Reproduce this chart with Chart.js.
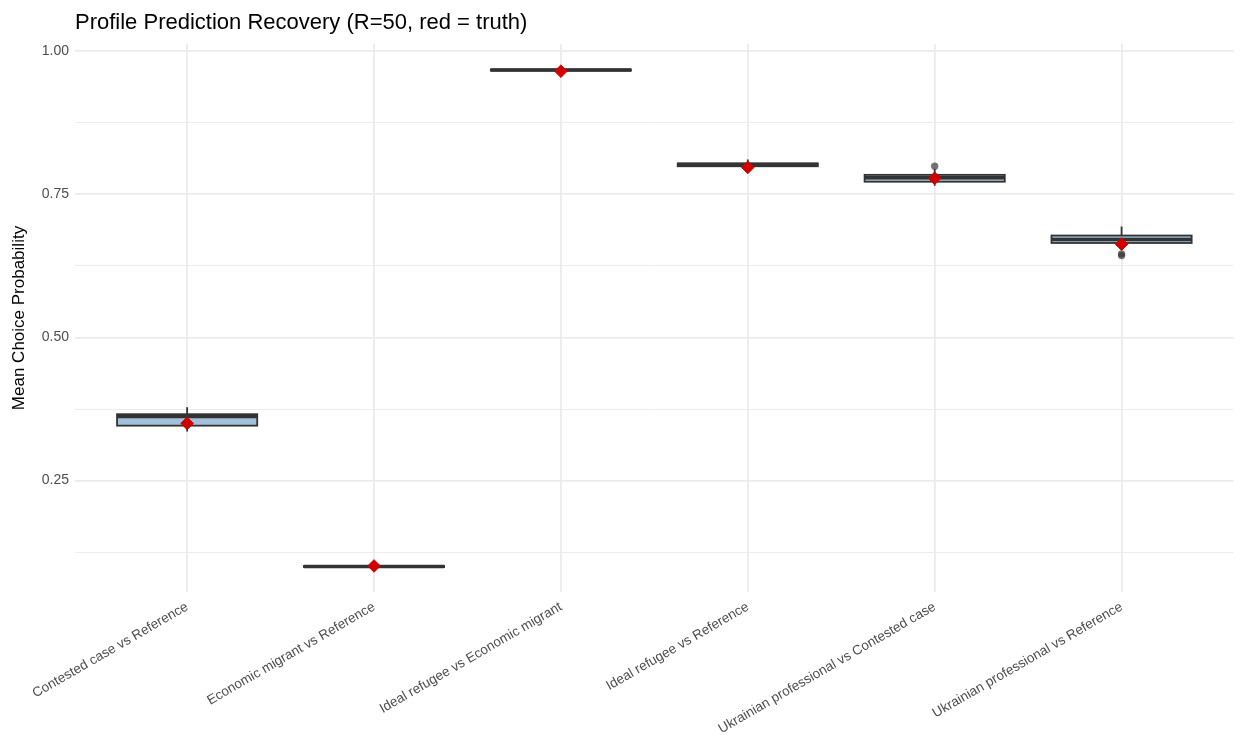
<!DOCTYPE html>
<html>
<head>
<meta charset="utf-8">
<title>Profile Prediction Recovery</title>
<script src="https://cdn.jsdelivr.net/npm/chart.js@4.4.1/dist/chart.umd.min.js"></script>
<style>
  html, body { margin: 0; padding: 0; background: #ffffff; }
  #wrap { width: 1241px; height: 743px; }
</style>
</head>
<body>
<div id="wrap"><canvas id="chart" width="1241" height="743"></canvas></div>
<script>
// Comparison profiles (one box per category)
const categories = [
  "Contested case vs Reference",
  "Economic migrant vs Reference",
  "Ideal refugee vs Economic migrant",
  "Ideal refugee vs Reference",
  "Ukrainian professional vs Contested case",
  "Ukrainian professional vs Reference"
];

// Box-plot summaries of the recovered mean choice probability across replications
const whiskerLow  = [0.336, 0.099, 0.966, 0.796, 0.765, 0.657];
const quartile1   = [0.346, 0.099, 0.966, 0.799, 0.772, 0.665];
const medians     = [0.362, 0.100, 0.967, 0.802, 0.779, 0.671];
const quartile3   = [0.366, 0.101, 0.968, 0.804, 0.784, 0.678];
const whiskerHigh = [0.378, 0.101, 0.969, 0.811, 0.794, 0.694];

// Points beyond the whiskers
const outlierCategory = [4, 5, 5];
const outlierValue    = [0.799, 0.646, 0.643];

// True values (red diamonds)
const truthValues = [0.350, 0.101, 0.965, 0.797, 0.778, 0.663];

// Y grid: labelled major lines every 0.25, minor lines half-way between
const yTickValues = [0.125, 0.25, 0.375, 0.5, 0.625, 0.75, 0.875, 1.0];

const FONT = "'Liberation Sans', Arial, Helvetica, sans-serif";
const GRID = "#ebebeb";
const INK = "#333333";

// y limits: data range expanded by 5% on each side
const allY = [].concat(whiskerLow, whiskerHigh, outlierValue, truthValues);
const yLo = Math.min(...allY), yHi = Math.max(...allY);
const yPad = (yHi - yLo) * 0.05;

const isMajor = v => Math.abs(v * 4 - Math.round(v * 4)) < 1e-9;

// Draws whiskers, boxes and medians from the summary arrays via the chart scales
const boxPlotPlugin = {
  id: 'boxPlot',
  beforeDatasetsDraw(chart) {
    const { ctx, scales: { x, y } } = chart;
    const halfWidth = 0.375;
    ctx.save();
    ctx.lineCap = 'butt';
    categories.forEach((_, i) => {
      const cx = x.getPixelForValue(i);
      const xl = x.getPixelForValue(i - halfWidth);
      const xr = x.getPixelForValue(i + halfWidth);
      const yWl = y.getPixelForValue(whiskerLow[i]);
      const yWh = y.getPixelForValue(whiskerHigh[i]);
      const yQ1 = y.getPixelForValue(quartile1[i]);
      const yQ3 = y.getPixelForValue(quartile3[i]);
      const yMd = y.getPixelForValue(medians[i]);

      // whiskers
      ctx.strokeStyle = INK;
      ctx.lineWidth = 1.8;
      ctx.beginPath();
      ctx.moveTo(cx, yQ3); ctx.lineTo(cx, yWh);
      ctx.moveTo(cx, yQ1); ctx.lineTo(cx, yWl);
      ctx.stroke();

      // box
      ctx.fillStyle = 'rgba(70,130,180,0.5)';
      ctx.fillRect(xl, yQ3, xr - xl, yQ1 - yQ3);
      ctx.strokeRect(xl, yQ3, xr - xl, yQ1 - yQ3);

      // median
      ctx.lineWidth = 3.6;
      ctx.beginPath();
      ctx.moveTo(xl, yMd); ctx.lineTo(xr, yMd);
      ctx.stroke();
    });
    ctx.restore();
  }
};

new Chart(document.getElementById('chart'), {
  type: 'scatter',
  data: {
    datasets: [
      {
        label: 'truth',
        data: truthValues.map((v, i) => ({ x: i, y: v })),
        pointStyle: 'rectRot',
        pointRadius: 6.3,
        pointHoverRadius: 6.3,
        backgroundColor: '#d00000',
        borderColor: '#d00000',
        borderWidth: 1
      },
      {
        label: 'outliers',
        data: outlierValue.map((v, k) => ({ x: outlierCategory[k], y: v })),
        pointStyle: 'circle',
        pointRadius: 3.7,
        pointHoverRadius: 3.7,
        backgroundColor: 'rgba(51,51,51,0.68)',
        borderWidth: 0
      }
    ]
  },
  options: {
    responsive: false,
    animation: false,
    devicePixelRatio: 1,
    layout: { padding: 0 },
    plugins: {
      legend: { display: false },
      tooltip: { enabled: false },
      title: {
        display: true,
        text: 'Profile Prediction Recovery (R=50, red = truth)',
        align: 'start',
        fullSize: false,
        color: '#000000',
        font: { family: FONT, size: 22, weight: 'normal' },
        padding: { top: 10, bottom: 7.6 }
      }
    },
    scales: {
      x: {
        type: 'linear',
        min: -0.6,
        max: 5.6,
        afterBuildTicks: s => { s.ticks = categories.map((_, i) => ({ value: i })); },
        afterFit: s => { s.height = 151; s.paddingLeft = 0; s.paddingRight = 0; },
        ticks: {
          autoSkip: false,
          minRotation: 30,
          maxRotation: 30,
          padding: 7,
          color: '#4d4d4d',
          font: { family: FONT, size: 13.5 },
          callback: v => categories[v]
        },
        grid: { color: GRID, lineWidth: 1.8, drawTicks: false },
        border: { display: false }
      },
      y: {
        type: 'linear',
        min: yLo - yPad,
        max: yHi + yPad,
        afterBuildTicks: s => { s.ticks = yTickValues.map(v => ({ value: v })); },
        afterFit: s => { s.width = 75; s.paddingTop = 0; s.paddingBottom = 0; },
        ticks: {
          padding: 6,
          color: '#4d4d4d',
          font: { family: FONT, size: 14 },
          callback: v => (isMajor(v) ? v.toFixed(2) : '')
        },
        grid: {
          drawTicks: false,
          color: GRID,
          lineWidth: c => (c.tick && isMajor(c.tick.value) ? 1.8 : 0.9)
        },
        border: { display: false },
        title: {
          display: true,
          text: 'Mean Choice Probability',
          color: '#000000',
          font: { family: FONT, size: 17 },
          padding: { top: 9, bottom: 0 }
        }
      }
    }
  },
  plugins: [boxPlotPlugin]
});
</script>
</body>
</html>
